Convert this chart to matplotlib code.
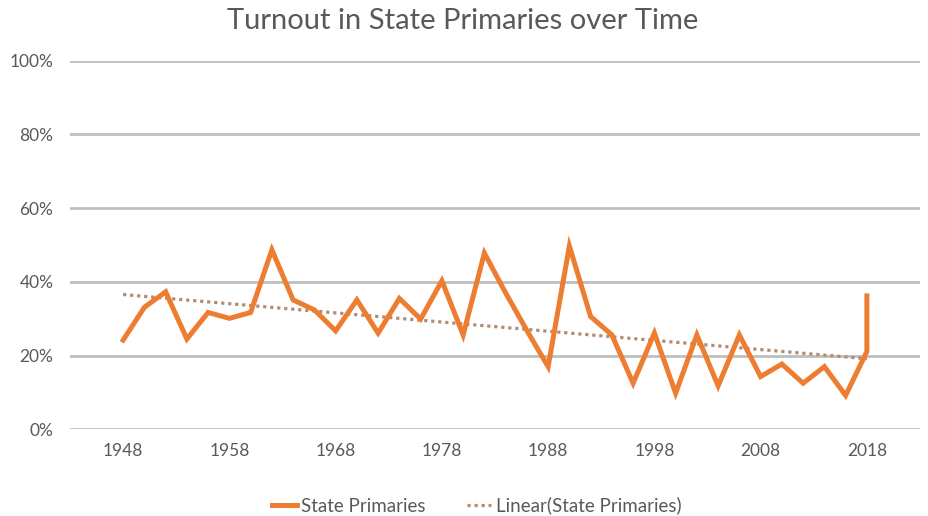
import numpy as np
import matplotlib
matplotlib.use("Agg")
import matplotlib.pyplot as plt
from matplotlib.ticker import PercentFormatter

years = [1948, 1950, 1952, 1954, 1956, 1958, 1960, 1962, 1964, 1966, 1968,
         1970, 1972, 1974, 1976, 1978, 1980, 1982, 1984, 1986, 1988, 1990,
         1992, 1994, 1996, 1998, 2000, 2002, 2004, 2006, 2008, 2010, 2012,
         2014, 2016, 2018, 2018]
turnout = [24.2, 33.1, 37.3, 24.5, 31.7, 30.1, 31.7, 48.7, 35.1, 32.4, 26.7,
           35.1, 26.1, 35.5, 29.9, 40.3, 25.6, 47.8, 37.0, 26.8, 17.0, 49.7,
           30.6, 25.6, 12.5, 26.1, 9.8, 25.6, 11.8, 25.6, 14.3, 17.7, 12.5,
           17.0, 9.2, 21.1, 36.2]
xticks = [1948, 1958, 1968, 1978, 1988, 1998, 2008, 2018]

plt.rcParams['font.family'] = ['Lato', 'DejaVu Sans']
txt = '#595959'

fig = plt.figure(figsize=(9.29, 5.16), dpi=100)
ax = fig.add_axes([70/929, 1-429.3/516, 850/929, (429.3-60.7)/516])

# linear trend over the data
x = np.array(years, dtype=float)
y = np.array(turnout)
k, b = np.polyfit(x, y, 1)
tx = np.array([years[0], years[-1]], dtype=float)

ax.plot(x, y, color='#ED7D31', lw=3.6, solid_joinstyle='miter', zorder=3,
        label='State Primaries')
ax.plot(tx, k*tx + b, color='#B08C72', lw=2.3, ls=(0, (1, 1.2)), zorder=2,
        label='Linear(State Primaries)')

ax.set_xlim(1943, 2023)
ax.set_ylim(0, 100)
ax.set_yticks(range(0, 101, 20))
ax.yaxis.set_major_formatter(PercentFormatter(decimals=0))
ax.set_xticks(xticks)
ax.grid(axis='y', color='#BFBFBF', lw=2)
ax.set_axisbelow(True)
for s in ax.spines.values():
    s.set_visible(False)
ax.tick_params(length=0, colors=txt, labelsize=12.5)
ax.tick_params(axis='y', pad=12)
ax.tick_params(axis='x', pad=10)

fig.suptitle('Turnout in State Primaries over Time', y=0.985, x=463/929,
             fontsize=21, color=txt)
fig.legend(loc='lower center', bbox_to_anchor=(477/929, -0.03), ncol=2,
           frameon=False, fontsize=13.5, labelcolor=txt, handlelength=1.3,
           handletextpad=0.25, columnspacing=2.2)

fig.savefig('out.png', dpi=100)
